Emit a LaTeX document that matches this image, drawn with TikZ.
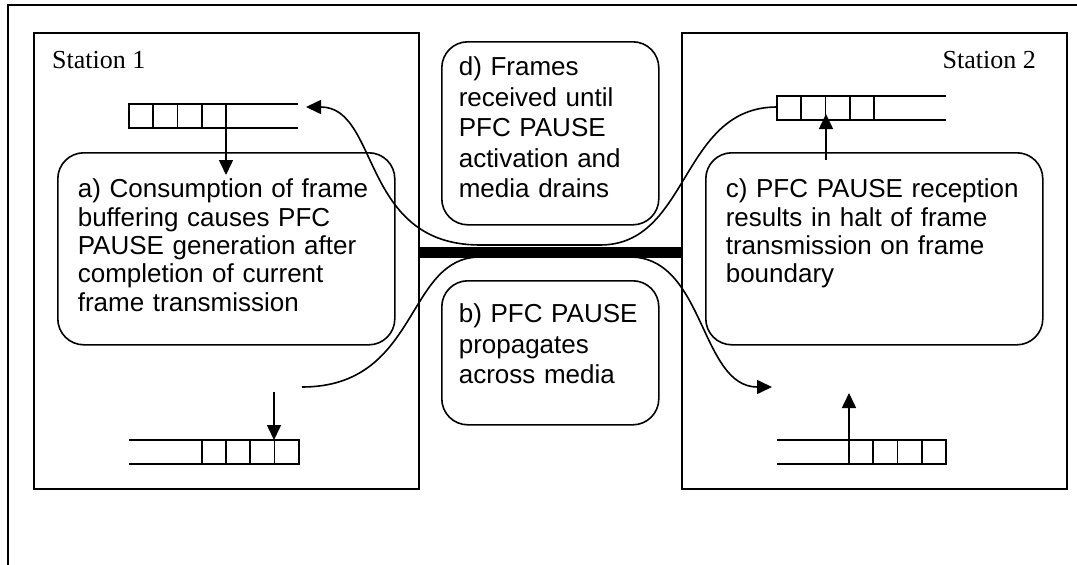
\documentclass[tikz,border=0pt]{standalone}
\usepackage{fontspec}
\setmainfont{Liberation Serif}
\setsansfont{Liberation Sans}
\usetikzlibrary{arrows.meta, positioning}

\begin{document}
\begin{tikzpicture}[
    x=1pt, y=-1pt,
    station/.style={rectangle, draw, line width=1.8pt, anchor=north west, inner sep=0pt, minimum width=385pt, minimum height=456pt},
    stationlabel/.style={inner sep=0pt, font=\fontsize{26}{30}\selectfont},
    note/.style={rectangle, draw, line width=1.6pt, rounded corners=26pt, anchor=north west, inner xsep=20pt, inner ysep=0pt, align=left, font=\sffamily\fontsize{26}{28.3}\selectfont},
    wide/.style={text width=297pt, text height=45pt, text depth=147pt},
    narrow/.style={inner xsep=17pt, text width=183pt, font=\sffamily\fontsize{26}{30.4}\selectfont},
    queue/.style={line width=1.6pt},
    arrow/.style={-{Triangle[length=15pt, width=14pt]}, line width=1.6pt},
    media/.style={line width=11pt}
]
\useasboundingbox (0,0) rectangle (1077,565);

% Outer frame
\draw[line width=1.8pt] (1077,5) -- (8,5) -- (8,565);

% Stations
\node[station] (station1) at (33,32) {};
\node[station] (station2) at (681,32) {};
\node[stationlabel, anchor=base west] (s1label) at (52,68) {Station 1};
\node[stationlabel, anchor=base east] (s2label) at (1036,68) {Station 2};

% Media
\draw[media] ([yshift=8.5pt]station1.east) -- ([yshift=8.5pt]station2.west);

% Notes
\node[note, wide] (consume) at (57,152) {a) Consumption of frame\\buffering causes PFC\\PAUSE generation after\\completion of current\\frame transmission};
\node[note, narrow, text height=42pt, text depth=102pt] (propagate) at (441,280) {b) PFC PAUSE\\propagates\\across media};
\node[note, wide] (halt) at (705,152) {c) PFC PAUSE reception\\results in halt of frame\\transmission on frame\\boundary};
\node[note, narrow, text height=34pt, text depth=149pt] (drain) at (441,41) {d) Frames\\received until\\PFC PAUSE\\activation and\\media drains};

% Queues
\draw[queue] (129,104) -- (298,104) (129,128) -- (298,128);
\foreach \i in {0,...,3} \draw[queue] (129+24.25*\i,104) rectangle ++(24.25,24);
\draw[queue] (129,440) -- (298,440) (129,464) -- (298,464);
\foreach \i in {0,...,3} \draw[queue] (201.75+24.25*\i,440) rectangle ++(24.25,24);
\draw[queue] (777,96) -- (946,96) (777,120) -- (946,120);
\foreach \i in {0,...,3} \draw[queue] (777+24.25*\i,96) rectangle ++(24.25,24);
\draw[queue] (777,440) -- (946,440) (777,464) -- (946,464);
\foreach \i in {0,...,3} \draw[queue] (849+24.25*\i,440) rectangle ++(24.25,24);

% Queue ends
\coordinate (s1rxq) at (226,128);
\coordinate (s1rxa) at (226,175);
\coordinate (s1txa) at (274,392);
\coordinate (s1txq) at (274,440);
\coordinate (s2rxa) at (826,160);
\coordinate (s2rxq) at (826,114);
\coordinate (s2txq) at (849,440);
\coordinate (s2txa) at (849,393);
\coordinate (s2out) at (777,107);
\coordinate (s1in) at (306,107);
\coordinate (s1out) at (302,387);
\coordinate (s2in) at (772,387);

% Connections
\draw[arrow] (s1rxq) -- (s1rxa);
\draw[arrow] (s1txa) -- (s1txq);
\draw[arrow] (s2rxa) -- (s2rxq);
\draw[arrow] (s2txq) -- (s2txa);
\draw[arrow] (s2out) .. controls (680,107) and (690,245) .. (600,245) -- (480,245) .. controls (360,245) and (380,107) .. (s1in);
\draw[arrow] (s1out) .. controls (420,387) and (405,257) .. (480,257) -- (630,257) .. controls (705,257) and (700,387) .. (s2in);

\end{tikzpicture}
\end{document}
